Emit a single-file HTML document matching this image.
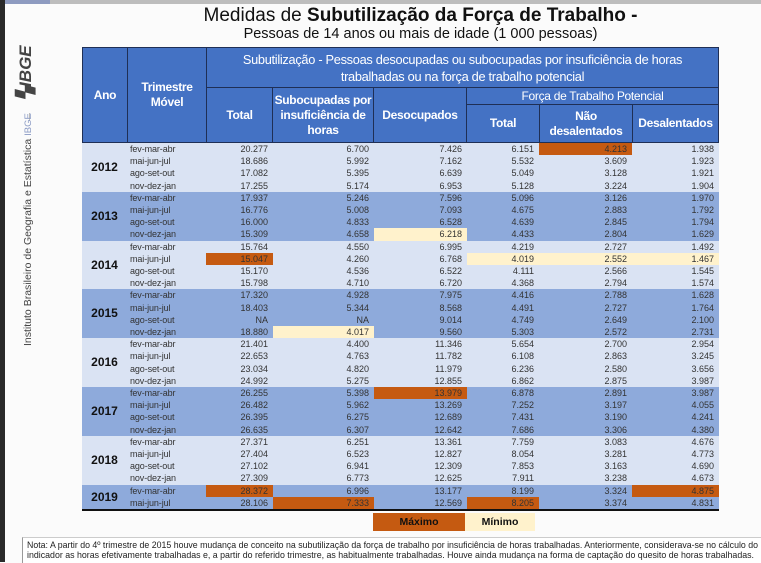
<!DOCTYPE html>
<html><head><meta charset="utf-8">
<style>
body{margin:0;width:761px;height:562px;overflow:hidden;background:#fbfbfb;font-family:"Liberation Sans",sans-serif;position:relative}
.abs{position:absolute}
.hd{position:absolute;background:#4472c4;color:#fff;display:flex;align-items:center;justify-content:center;text-align:center;box-sizing:border-box;border:1px solid #1f2f55;font-weight:bold;font-size:12px;letter-spacing:-0.3px;line-height:15px}
.cell{position:absolute;font-size:9px;color:#333;line-height:12px;white-space:nowrap;box-sizing:border-box}
.num{text-align:right;padding-right:5px}
.fit{white-space:nowrap;transform-origin:0 0;display:inline-block}
</style></head>
<body>
<div class="abs" style="left:0;top:0;width:5px;height:562px;background:#2a2a2a"></div>
<div class="abs" style="left:5px;top:0;width:756px;height:4px;background:#bdbdbd"></div>
<div class="abs" style="left:5px;top:0;width:45px;height:4px;background:#8e9bc0"></div>
<div class="abs" style="left:16px;top:100px;width:70px;height:20px;transform:rotate(-90deg);transform-origin:0 0;font-weight:bold;font-style:italic;font-size:17px;color:#444;white-space:nowrap">▚IBGE</div>
<div class="abs" style="left:29px;top:113px;width:1px;height:8px;background:#bbb"></div>
<div class="abs" style="left:22px;top:346px;width:230px;height:16px;transform:rotate(-90deg);transform-origin:0 0;font-size:10.5px;color:#444;white-space:nowrap">Instituto Brasileiro de Geografia e Estatística <span style="color:#8a9ac4;font-size:9.5px">IBGE</span></div>

<div class="abs" style="left:80px;top:5px;width:681px;text-align:center;font-size:19px;color:#111">Medidas de <b>Subutilização da Força de Trabalho -</b></div>
<div class="abs" style="left:80px;top:26px;width:681px;text-align:center;font-size:14.5px;color:#111">Pessoas de 14 anos ou mais de idade (1 000 pessoas)</div>

<div class="hd" style="left:82px;top:47px;width:46px;height:96px">Ano</div>
<div class="hd" style="left:127px;top:47px;width:80px;height:96px">Trimestre<br>Móvel</div>
<div class="hd" style="left:206px;top:47px;width:513px;height:41px;font-weight:normal;font-size:12.8px;line-height:17px">Subutilização - Pessoas desocupadas ou subocupadas por insuficiência de horas<br>trabalhadas ou na força de trabalho potencial</div>
<div class="hd" style="left:206px;top:87px;width:67px;height:56px">Total</div>
<div class="hd" style="left:272px;top:87px;width:102px;height:56px">Subocupadas por<br>insuficiência de<br>horas</div>
<div class="hd" style="left:373px;top:87px;width:94px;height:56px">Desocupados</div>
<div class="hd" style="left:466px;top:87px;width:253px;height:18px;font-weight:normal">Força de Trabalho Potencial</div>
<div class="hd" style="left:466px;top:104px;width:74px;height:39px">Total</div>
<div class="hd" style="left:539px;top:104px;width:94px;height:39px">Não<br>desalentados</div>
<div class="hd" style="left:632px;top:104px;width:87px;height:39px">Desalentados</div>

<div id="body"></div>
<div class="abs" style="left:82px;top:509px;width:637px;height:2px;background:#111"></div>

<div class="abs" style="left:373px;top:513px;width:92px;height:18px;background:#c55a11;color:#111;font-size:10.5px;font-weight:bold;text-align:center;line-height:18px">Máximo</div>
<div class="abs" style="left:465px;top:513px;width:70px;height:18px;background:#fff2cc;color:#111;font-size:10.5px;font-weight:bold;text-align:center;line-height:18px">Mínimo</div>

<div class="abs" style="left:22px;top:537px;width:739px;height:25px;border-left:1px solid #999;border-top:1px solid #ccc;background:#fff"></div>
<div class="abs" style="left:27px;top:540px;width:731px;font-size:9.5px;color:#222"><span class="fit">Nota: A partir do 4º trimestre de 2015 houve mudança de conceito na subutilização da força de trabalho por insuficiência de horas trabalhadas. Anteriormente, considerava-se no cálculo do</span></div>
<div class="abs" style="left:27px;top:550px;width:727px;font-size:9.5px;color:#222"><span class="fit">indicador as horas efetivamente trabalhadas e, a partir do referido trimestre, as habitualmente trabalhadas. Houve ainda mudança na forma de captação do quesito de horas trabalhadas.</span></div>

<script>
const years=["2012","2013","2014","2015","2016","2017","2018","2019"];
const quarters=["fev-mar-abr","mai-jun-jul","ago-set-out","nov-dez-jan"];
const colTotal=["20.277","18.686","17.082","17.255","17.937","16.776","16.000","15.309","15.764","15.047","15.170","15.798","17.320","18.403","NA","18.880","21.401","22.653","23.034","24.992","26.255","26.482","26.395","26.635","27.371","27.404","27.102","27.309","28.372","28.106"];
const colSub=["6.700","5.992","5.395","5.174","5.246","5.008","4.833","4.658","4.550","4.260","4.536","4.710","4.928","5.344","NA","4.017","4.400","4.763","4.820","5.275","5.398","5.962","6.275","6.307","6.251","6.523","6.941","6.773","6.996","7.333"];
const colDesoc=["7.426","7.162","6.639","6.953","7.596","7.093","6.528","6.218","6.995","6.768","6.522","6.720","7.975","8.568","9.014","9.560","11.346","11.782","11.979","12.855","13.979","13.269","12.689","12.642","13.361","12.827","12.309","12.625","13.177","12.569"];
const colFtp=["6.151","5.532","5.049","5.128","5.096","4.675","4.639","4.433","4.219","4.019","4.111","4.368","4.416","4.491","4.749","5.303","5.654","6.108","6.236","6.862","6.878","7.252","7.431","7.686","7.759","8.054","7.853","7.911","8.199","8.205"];
const colNaoDes=["4.213","3.609","3.128","3.224","3.126","2.883","2.845","2.804","2.727","2.552","2.566","2.794","2.788","2.727","2.649","2.572","2.700","2.863","2.580","2.875","2.891","3.197","3.190","3.306","3.083","3.281","3.163","3.238","3.324","3.374"];
const colDesal=["1.938","1.923","1.921","1.904","1.970","1.792","1.794","1.629","1.492","1.467","1.545","1.574","1.628","1.764","2.100","2.731","2.954","3.245","3.656","3.987","3.987","4.055","4.241","4.380","4.676","4.773","4.690","4.673","4.875","4.831"];
const maxCells=["0-4","9-0","20-2","28-0","28-5","29-1","29-3"];
const minCells=["7-2","9-3","9-4","9-5","15-1"];
const cols=[colTotal,colSub,colDesoc,colFtp,colNaoDes,colDesal];
const colNames=["total","subocupadas","desocupados","ftp-total","nao-desalentados","desalentados"];
const edges=[206,273,374,467,539,632,719];
const top0=143, rh=12.2;
const body=document.getElementById('body');
const n=colTotal.length;
for(let r=0;r<n;r++){
  const yi=Math.floor(r/4), y=top0+r*rh;
  const bg=yi%2===0?'#dae3f3':'#8eaadb';
  const row=document.createElement('div');
  row.className='cell';
  
  
  row.style.cssText=`left:82px;top:${y}px;width:637px;height:${rh+0.4}px;background:${bg}`;
  body.appendChild(row);
  const q=document.createElement('div');
  q.className='cell';
  
  
  q.style.cssText=`left:130px;top:${y}px;height:${rh}px;letter-spacing:-0.1px`;
  q.textContent=quarters[r%4];
  body.appendChild(q);
  for(let c=0;c<6;c++){
    const key=r+'-'+c;
    let cbg='transparent';
    if(maxCells.includes(key)) cbg='#c55a11';
    if(minCells.includes(key)) cbg='#fff2cc';
    const d=document.createElement('div');
    d.className='cell num';
    
    
    d.style.cssText=`left:${edges[c]}px;top:${y}px;width:${edges[c+1]-edges[c]}px;height:${rh}px;background:${cbg}`;
    d.textContent=cols[c][r];
    body.appendChild(d);
  }
}
for(let i=0;i<years.length;i++){
  const cnt=Math.min(4,n-i*4);
  const y=top0+i*4*rh;
  const d=document.createElement('div');
  d.className='cell';
  
  
  d.style.cssText=`left:82px;top:${y}px;width:45px;height:${cnt*rh}px;line-height:${cnt*rh}px;text-align:center;font-weight:bold;font-size:12px;color:#111`;
  d.textContent=years[i];
  body.appendChild(d);
}
document.querySelectorAll('.fit').forEach(s=>{
  const w=s.parentElement.getBoundingClientRect().width;
  const sw=s.getBoundingClientRect().width;
  s.style.transform=`scaleX(${w/sw})`;
});
</script>
</body></html>
